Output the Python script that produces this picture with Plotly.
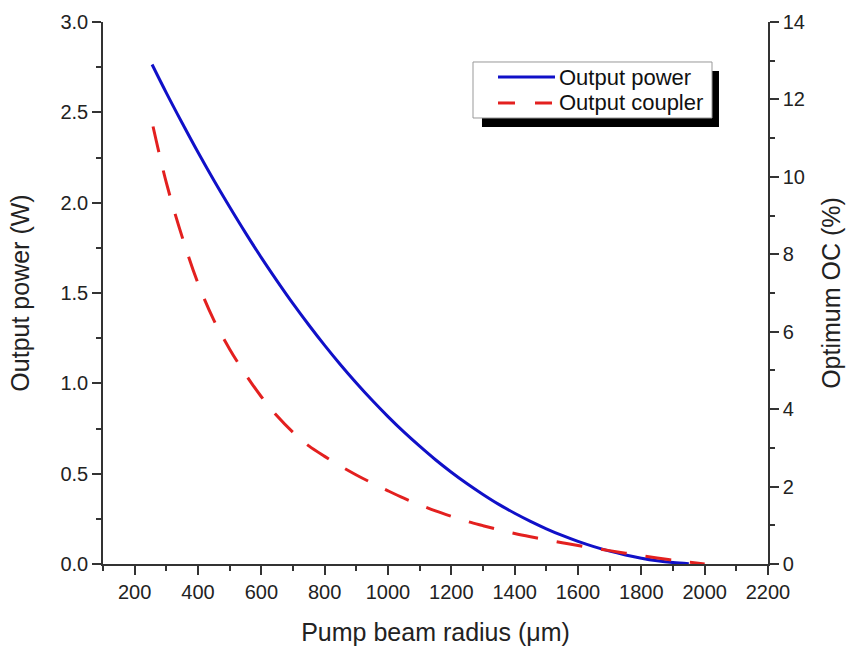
import plotly.graph_objects as go

# Pump beam radius (um) and output power (W)
radius_power = [255, 300, 350, 400, 450, 500, 550, 600, 650, 700, 750, 800, 850, 900,
                950, 1000, 1050, 1100, 1150, 1200, 1250, 1300, 1350, 1400, 1450, 1500,
                1550, 1600, 1650, 1700, 1750, 1800, 1850, 1900, 1950]
output_power = [2.765, 2.608, 2.441, 2.279, 2.124, 1.976, 1.833, 1.696, 1.566, 1.441,
                1.323, 1.210, 1.103, 1.002, 0.906, 0.816, 0.731, 0.652, 0.577, 0.508,
                0.444, 0.385, 0.330, 0.281, 0.236, 0.195, 0.158, 0.125, 0.096, 0.071,
                0.050, 0.032, 0.018, 0.008, 0.002]

# Pump beam radius (um) and optimum output coupler (%)
radius_oc = [258, 300, 350, 400, 450, 500, 550, 600, 650, 700, 750, 800, 850, 900, 950,
             1000, 1050, 1100, 1150, 1200, 1250, 1300, 1350, 1400, 1450, 1500, 1550,
             1600, 1650, 1700, 1750, 1800, 1850, 1900, 1950, 2000]
optimum_oc = [11.3, 9.85, 8.45, 7.25, 6.30, 5.55, 4.90, 4.32, 3.82, 3.40, 3.05, 2.78,
              2.53, 2.30, 2.09, 1.89, 1.70, 1.53, 1.37, 1.23, 1.10, 0.99, 0.885, 0.79,
              0.705, 0.625, 0.55, 0.48, 0.41, 0.345, 0.28, 0.215, 0.155, 0.10, 0.05, 0.0]

series_names = ["Output power", "Output coupler"]
x_ticks = list(range(200, 2201, 200))

FONT = "Liberation Sans, Arial, sans-serif"
BLUE = "#1010c8"
RED = "#e3201f"

fig = go.Figure()
fig.add_trace(go.Scatter(x=radius_power, y=output_power, mode="lines", name=series_names[0],
                         line=dict(color=BLUE, width=3, shape="spline"), yaxis="y"))
fig.add_trace(go.Scatter(x=radius_oc, y=optimum_oc, mode="lines", name=series_names[1],
                         line=dict(color=RED, width=3, dash="26px,19px", shape="spline"),
                         yaxis="y2"))

axis_common = dict(showline=True, linecolor="#333", linewidth=1.5, showgrid=False,
                   zeroline=False, ticks="outside", tickcolor="#333", tickwidth=1.5,
                   ticklen=9, automargin=False,
                   tickfont=dict(family=FONT, size=20, color="#222"))
title_font = dict(family=FONT, size=25, color="#222")

# legend drawn as a framed box with a drop shadow (paper coordinates)
lx0, lx1, ly0, ly1 = 0.5564, 0.9158, 0.8229, 0.9262
sx0, sx1, sy0, sy1 = 0.5699, 0.9263, 0.8063, 0.9096
smp_x0, smp_x1, txt_x = 0.594, 0.6797, 0.6827
row_y = [0.8985, 0.8506]

shapes = [
    dict(type="rect", xref="paper", yref="paper", x0=sx0, x1=sx1, y0=sy0, y1=sy1,
         fillcolor="black", line=dict(width=0), layer="above"),
    dict(type="rect", xref="paper", yref="paper", x0=lx0, x1=lx1, y0=ly0, y1=ly1,
         fillcolor="white", line=dict(color="#999", width=1), layer="above"),
    dict(type="line", xref="paper", yref="paper", x0=smp_x0, x1=smp_x1, y0=row_y[0], y1=row_y[0],
         line=dict(color=BLUE, width=3), layer="above"),
    dict(type="line", xref="paper", yref="paper", x0=smp_x0, x1=smp_x1, y0=row_y[1], y1=row_y[1],
         line=dict(color=RED, width=3, dash="17px,20px"), layer="above"),
]
annotations = [
    dict(xref="paper", yref="paper", x=txt_x, y=row_y[i], xanchor="left", yanchor="middle",
         text=series_names[i], showarrow=False, font=dict(family=FONT, size=22, color="#111"))
    for i in range(2)
]

fig.update_layout(
    width=848, height=651,
    margin=dict(l=103, r=80, t=22, b=87),
    paper_bgcolor="white", plot_bgcolor="white",
    showlegend=False,
    xaxis=dict(range=[100, 2200], tickvals=x_ticks, **axis_common,
               minor=dict(dtick=100, tick0=100, ticks="outside", ticklen=5, tickcolor="#333"),
               title=dict(text="Pump beam radius (\u03bcm)", font=title_font, standoff=22)),
    xaxis2=dict(range=[100, 2200], overlaying="x", side="top", anchor="y", tickvals=x_ticks,
                showticklabels=False, showline=True, linecolor="#333", linewidth=1.5,
                showgrid=False, zeroline=False, ticks="inside", ticklen=8, tickwidth=1.5,
                tickcolor="#333",
                minor=dict(dtick=100, tick0=100, ticks="inside", ticklen=5, tickcolor="#333")),
    yaxis=dict(range=[0, 3], dtick=0.5, tickformat=".1f", **axis_common,
               minor=dict(dtick=0.25, ticks="outside", ticklen=5, tickcolor="#333"),
               title=dict(text="Output power (W)", font=title_font, standoff=24)),
    yaxis2=dict(range=[0, 14], dtick=2, overlaying="y", side="right", anchor="x", **axis_common,
                minor=dict(dtick=1, ticks="outside", ticklen=5, tickcolor="#333"),
                title=dict(text="Optimum OC (%)", font=title_font, standoff=18)),
    shapes=shapes,
    annotations=annotations,
)

fig.write_html("out.html", config={"displayModeBar": False},
               post_script="document.body.style.margin='0px';")
